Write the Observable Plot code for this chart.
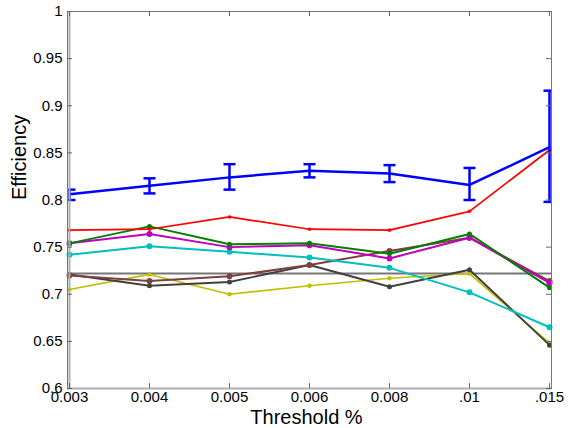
<!DOCTYPE html>
<html>
<head>
<meta charset="utf-8">
<script src="https://cdn.jsdelivr.net/npm/d3@7"></script>
<script src="https://cdn.jsdelivr.net/npm/@observablehq/plot@0.6"></script>
<style>
  body { margin: 0; background: #fff; }
  svg { font-family: Arial, "Liberation Sans", sans-serif; }
</style>
</head>
<body>
<div id="chart"></div>
<script>
const cats = ["0.003","0.004","0.005","0.006","0.008",".01",".015"];
const yTicks = [0.6,0.65,0.7,0.75,0.8,0.85,0.9,0.95,1];
const blue    = [0.806,0.815,0.824,0.831,0.828,0.816,0.856];
const blueLo  = [0.800,0.807,0.811,0.824,0.819,0.800,0.798];
const blueHi  = [0.811,0.823,0.838,0.838,0.837,0.834,0.916];
const red     = [0.768,0.769,0.782,0.769,0.768,0.788,0.853];
const green   = [0.754,0.772,0.753,0.754,0.743,0.764,0.707];
const magenta = [0.754,0.764,0.750,0.752,0.738,0.760,0.712];
const cyan    = [0.742,0.751,0.745,0.739,0.728,0.702,0.665];
const brown   = [0.720,0.714,0.719,0.731,0.746,0.760,0.714];
const dark    = [0.721,0.709,0.713,0.731,0.708,0.726,0.646];
const yellow  = [0.705,0.721,0.700,0.709,0.717,0.722,0.648];
const baseline = 0.722;

const rows = v => cats.map((c, i) => ({x: c, y: v[i]}));
const errRows = cats.map((c, i) => ({x: c, y: blue[i], lo: blueLo[i], hi: blueHi[i]}));

// horizontal cap symbol for error bars
const capSymbol = {
  draw(context, size) {
    const w = Math.sqrt(size / Math.PI);
    context.moveTo(-w, 0);
    context.lineTo(w, 0);
  }
};

const series = [
  {v: yellow,  color: "#bfbf00", w: 1.7, r: 2.2},
  {v: dark,    color: "#404040", w: 1.9, r: 2.5},
  {v: brown,   color: "#7f4040", w: 2,   r: 3},
  {v: cyan,    color: "#00bfbf", w: 2,   r: 3},
  {v: magenta, color: "#bf00bf", w: 2,   r: 3},
  {v: green,   color: "#008000", w: 2,   r: 2.5},
  {v: red,     color: "#ff0000", w: 1.7, r: 1.8}
];

const marks = [
  Plot.ruleY([baseline], {stroke: "#777", strokeWidth: 2}),
];
for (const s of series) {
  marks.push(Plot.line(rows(s.v), {x: "x", y: "y", stroke: s.color, strokeWidth: s.w}));
  marks.push(Plot.dot(rows(s.v), {x: "x", y: "y", fill: s.color, r: s.r}));
}
marks.push(
  Plot.line(rows(blue), {x: "x", y: "y", stroke: "#0000ff", strokeWidth: 2.5}),
  Plot.ruleX(errRows, {x: "x", y1: "lo", y2: "hi", stroke: "#0000ff", strokeWidth: 2.5, clip: true}),
  Plot.dot(errRows, {x: "x", y: "lo", symbol: capSymbol, r: 6, stroke: "#0000ff", fill: "none", strokeWidth: 2.5, clip: true}),
  Plot.dot(errRows, {x: "x", y: "hi", symbol: capSymbol, r: 6, stroke: "#0000ff", fill: "none", strokeWidth: 2.5, clip: true}),
  // frame
  Plot.frame({stroke: "#777", strokeWidth: 1}),
  Plot.ruleX([cats[0]], {stroke: "#b0b0b0", strokeWidth: 2}),
  Plot.ruleY([0.6], {stroke: "#b0b0b0", strokeWidth: 2}),
  // inward ticks
  Plot.ruleY(yTicks, {y: d => d, stroke: "#666", strokeWidth: 1, insetRight: 479}),
  Plot.ruleY(yTicks, {y: d => d, stroke: "#666", strokeWidth: 1, insetLeft: 479}),
  Plot.ruleX(cats, {x: d => d, stroke: "#666", strokeWidth: 1, insetTop: 372}),
  Plot.ruleX(cats, {x: d => d, stroke: "#666", strokeWidth: 1, insetBottom: 372}),
  Plot.axisY({ticks: yTicks, tickSize: 0, tickPadding: 5, fontSize: 15, label: null, tickFormat: d => String(+d.toFixed(2))}),
  Plot.axisX({tickSize: 0, tickPadding: 3, fontSize: 15, label: null}),
  Plot.text(["Efficiency"], {frameAnchor: "left", rotate: -90, dx: -48, fontSize: 20, fill: "#000"}),
  Plot.text(["Threshold %"], {frameAnchor: "bottom", lineAnchor: "bottom", dy: 35, dx: -3, fontSize: 20, fill: "#000"})
);

const chart = Plot.plot({
  width: 568,
  height: 428,
  marginLeft: 67,
  marginRight: 17,
  marginTop: 11,
  marginBottom: 40,
  style: {background: "#fff", color: "#000", fontFamily: "Arial, 'Liberation Sans', sans-serif"},
  x: {type: "point", domain: cats, padding: 0},
  y: {domain: [0.6, 1]},
  marks
});
document.getElementById("chart").appendChild(chart);
</script>
</body>
</html>
